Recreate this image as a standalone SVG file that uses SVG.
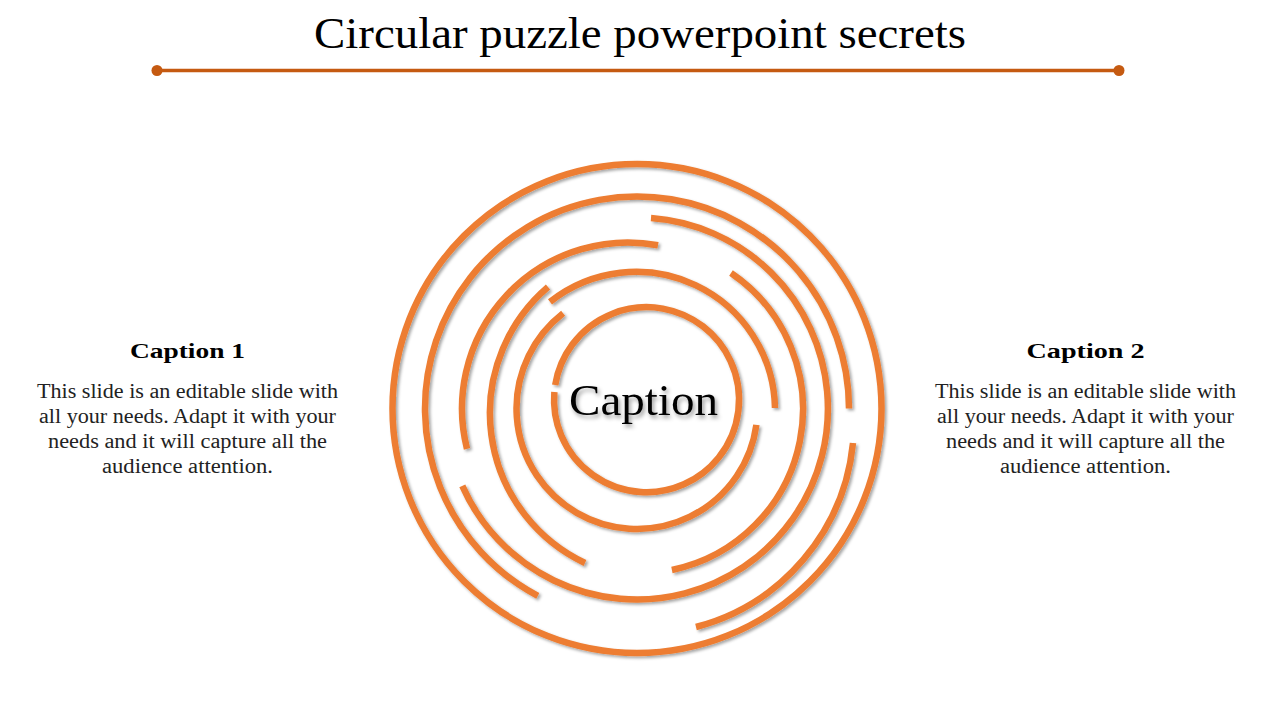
<svg xmlns="http://www.w3.org/2000/svg" width="1280" height="720" viewBox="0 0 1280 720">
  <defs>
    <filter id="sh" x="-20%" y="-20%" width="140%" height="140%">
      <feDropShadow dx="2" dy="2" stdDeviation="1.5" flood-color="#000" flood-opacity="0.35"/>
    </filter>
    <filter id="tsh" x="-20%" y="-40%" width="140%" height="180%">
      <feDropShadow dx="2" dy="3" stdDeviation="2" flood-color="#000" flood-opacity="0.4"/>
    </filter>
  </defs>
  <style>
    .ring { fill: none; stroke: #ED7D31; stroke-width: 6.5; stroke-linecap: butt; }
    .title { font-family: "Liberation Serif", "DejaVu Serif", serif; font-size: 44px; fill: #000; }
    .head { font-family: "Liberation Serif", "DejaVu Serif", serif; font-size: 22px; font-weight: bold; fill: #000; }
    .body { font-family: "Liberation Serif", "DejaVu Serif", serif; font-size: 20px; fill: #222; }
    .center { font-family: "Liberation Serif", "DejaVu Serif", serif; font-size: 44px; fill: #000; }
  </style>

  <g id="title">
    <text class="title" x="640" y="48" text-anchor="middle" textLength="652" lengthAdjust="spacingAndGlyphs">Circular puzzle powerpoint secrets</text>
    <line x1="157" y1="70.5" x2="1119" y2="70.5" stroke="#C55A11" stroke-width="3.5"/>
    <circle cx="157" cy="70.5" r="5.5" fill="#C55A11"/>
    <circle cx="1119" cy="70.5" r="5.5" fill="#C55A11"/>
  </g>

  <g id="puzzle" filter="url(#sh)">
    <circle id="ring-a" class="ring" cx="637" cy="408.5" r="244.5"/>
    <path id="arc-b" class="ring" d="M537.8,595.9 A212,212 0 1 1 849,408.5"/>
    <path id="arc-f" class="ring" d="M853,443 A212,212 0 0 1 696,627"/>
    <path id="arc-e" class="ring" d="M651,218 A191,191 0 1 1 462.3,485.9"/>
    <path id="arc-c" class="ring" d="M467,448.9 A166,166 0 0 1 658,245.2"/>
    <path id="arc-h" class="ring" d="M585,563 A165.8,165.8 0 0 1 548,287"/>
    <path id="arc-j" class="ring" d="M731,273 A164.4,164.4 0 0 1 671.9,570"/>
    <path id="arc-d" class="ring" d="M550,301.9 A138.8,138.8 0 0 1 775,408"/>
    <path id="arc-i" class="ring" d="M756.4,424.9 A120.5,120.5 0 1 1 563.1,313.3"/>
    <path id="arc-k" class="ring" d="M555.2,385 A92.5,92.5 0 1 1 554.35,392"/>
  </g>

  <g id="center-caption">
    <text class="center" x="643.5" y="415" text-anchor="middle" textLength="149" lengthAdjust="spacingAndGlyphs" filter="url(#tsh)">Caption</text>
  </g>

  <g id="caption-1">
    <text class="head" x="187.5" y="358" text-anchor="middle" textLength="115" lengthAdjust="spacingAndGlyphs">Caption 1</text>
    <text class="body" x="187.5" y="398" text-anchor="middle" textLength="301" lengthAdjust="spacingAndGlyphs">This slide is an editable slide with</text>
    <text class="body" x="187.5" y="423" text-anchor="middle" textLength="297" lengthAdjust="spacingAndGlyphs">all your needs. Adapt it with your</text>
    <text class="body" x="187.5" y="448" text-anchor="middle" textLength="279" lengthAdjust="spacingAndGlyphs">needs and it will capture all the</text>
    <text class="body" x="187.5" y="473" text-anchor="middle" textLength="171" lengthAdjust="spacingAndGlyphs">audience attention.</text>
  </g>

  <g id="caption-2">
    <text class="head" x="1085.5" y="358" text-anchor="middle" textLength="118" lengthAdjust="spacingAndGlyphs">Caption 2</text>
    <text class="body" x="1085.5" y="398" text-anchor="middle" textLength="301" lengthAdjust="spacingAndGlyphs">This slide is an editable slide with</text>
    <text class="body" x="1085.5" y="423" text-anchor="middle" textLength="297" lengthAdjust="spacingAndGlyphs">all your needs. Adapt it with your</text>
    <text class="body" x="1085.5" y="448" text-anchor="middle" textLength="279" lengthAdjust="spacingAndGlyphs">needs and it will capture all the</text>
    <text class="body" x="1085.5" y="473" text-anchor="middle" textLength="171" lengthAdjust="spacingAndGlyphs">audience attention.</text>
  </g>
</svg>
